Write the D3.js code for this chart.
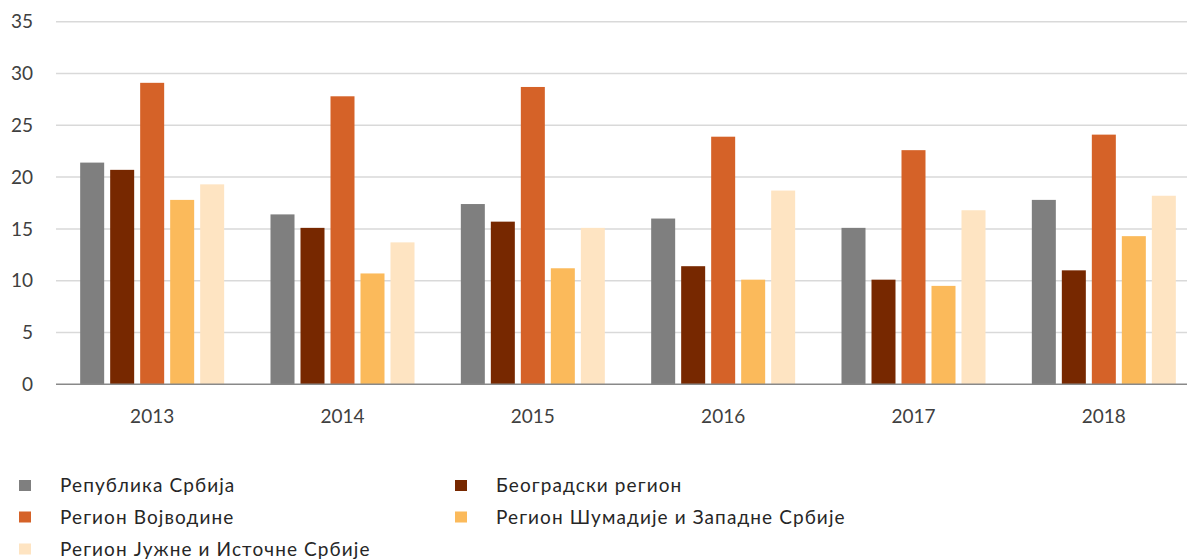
<!DOCTYPE html>
<html><head><meta charset="utf-8">
<script src="https://cdn.jsdelivr.net/npm/d3@7"></script>
<style>body{margin:0;background:#fff;}svg{display:block;font-family:Lato, "Open Sans", sans-serif;}</style>
</head><body>
<svg id="c" width="1187" height="560"></svg>
<script>
const years = ["2013","2014","2015","2016","2017","2018"];
const seriesNames = ["Република Србија","Београдски регион","Регион Војводине","Регион Шумадије и Западне Србије","Регион Јужне и Источне Србије"];
const seriesColors = ["#7f7f7f","#772800","#d56228","#fbba5b","#fee4c2"];
const srbija     = [21.4, 16.4, 17.4, 16.0, 15.1, 17.8];
const beograd    = [20.7, 15.1, 15.7, 11.4, 10.1, 11.0];
const vojvodina  = [29.1, 27.8, 28.7, 23.9, 22.6, 24.1];
const sumadija   = [17.8, 10.7, 11.2, 10.1, 9.5, 14.3];
const juzna      = [19.3, 13.7, 15.1, 18.7, 16.8, 18.2];
const yTicks = [0,5,10,15,20,25,30,35];
const seriesValues = [srbija, beograd, vojvodina, sumadija, juzna];

const svg = d3.select("#c");
const x = d3.scaleBand().domain(years).range([57, 1199]).paddingInner(0).paddingOuter(0);
const y = d3.scaleLinear().domain([0,35]).range([384.3, 21.7]);
const xs = d3.scaleBand().domain(d3.range(5)).range([-75, 75]).paddingInner(0.2).paddingOuter(0.1);

// gridlines
svg.append("g").selectAll("line").data(yTicks.filter(d=>d>0)).join("line")
  .attr("x1",56).attr("x2",1187).attr("y1",d=>y(d)).attr("y2",d=>y(d))
  .attr("stroke","#d9d9d9").attr("stroke-width",1.5);

// y labels
svg.append("g").selectAll("text").data(yTicks).join("text")
  .attr("x",33).attr("y",d=>y(d)).attr("dy","0.35em").attr("text-anchor","end")
  .attr("font-size",19).attr("fill","#404040").text(d=>d);

// bars
const g = svg.append("g");
seriesValues.forEach((vals,si)=>{
  g.append("g").selectAll("rect").data(vals).join("rect")
    .attr("x",(d,i)=>x(years[i])+x.bandwidth()/2+xs(si))
    .attr("width",xs.bandwidth())
    .attr("y",d=>y(d)).attr("height",d=>y(0)-y(d))
    .attr("fill",seriesColors[si]);
});

// axis line
svg.append("line").attr("x1",56).attr("x2",1187).attr("y1",y(0)).attr("y2",y(0))
  .attr("stroke","#898989").attr("stroke-width",1.5);

// x labels
svg.append("g").selectAll("text").data(years).join("text")
  .attr("x",d=>x(d)+x.bandwidth()/2).attr("y",416).attr("dy","0.35em")
  .attr("text-anchor","middle").attr("font-size",19).attr("fill","#404040").text(d=>d);

// legend
const legPos = [[19,485.5],[455,485.5],[19,517],[455,517],[19,549]];
const leg = svg.append("g");
seriesNames.forEach((n,i)=>{
  const [lx,ly]=legPos[i];
  leg.append("rect").attr("x",lx).attr("y",ly-5.5).attr("width",12).attr("height",11).attr("fill",seriesColors[i]);
  leg.append("text").attr("x",lx+41).attr("y",ly).attr("dy","0.35em")
    .attr("font-size",19).attr("letter-spacing",1.1).attr("fill","#262626").text(n);
});
</script>
</body></html>
